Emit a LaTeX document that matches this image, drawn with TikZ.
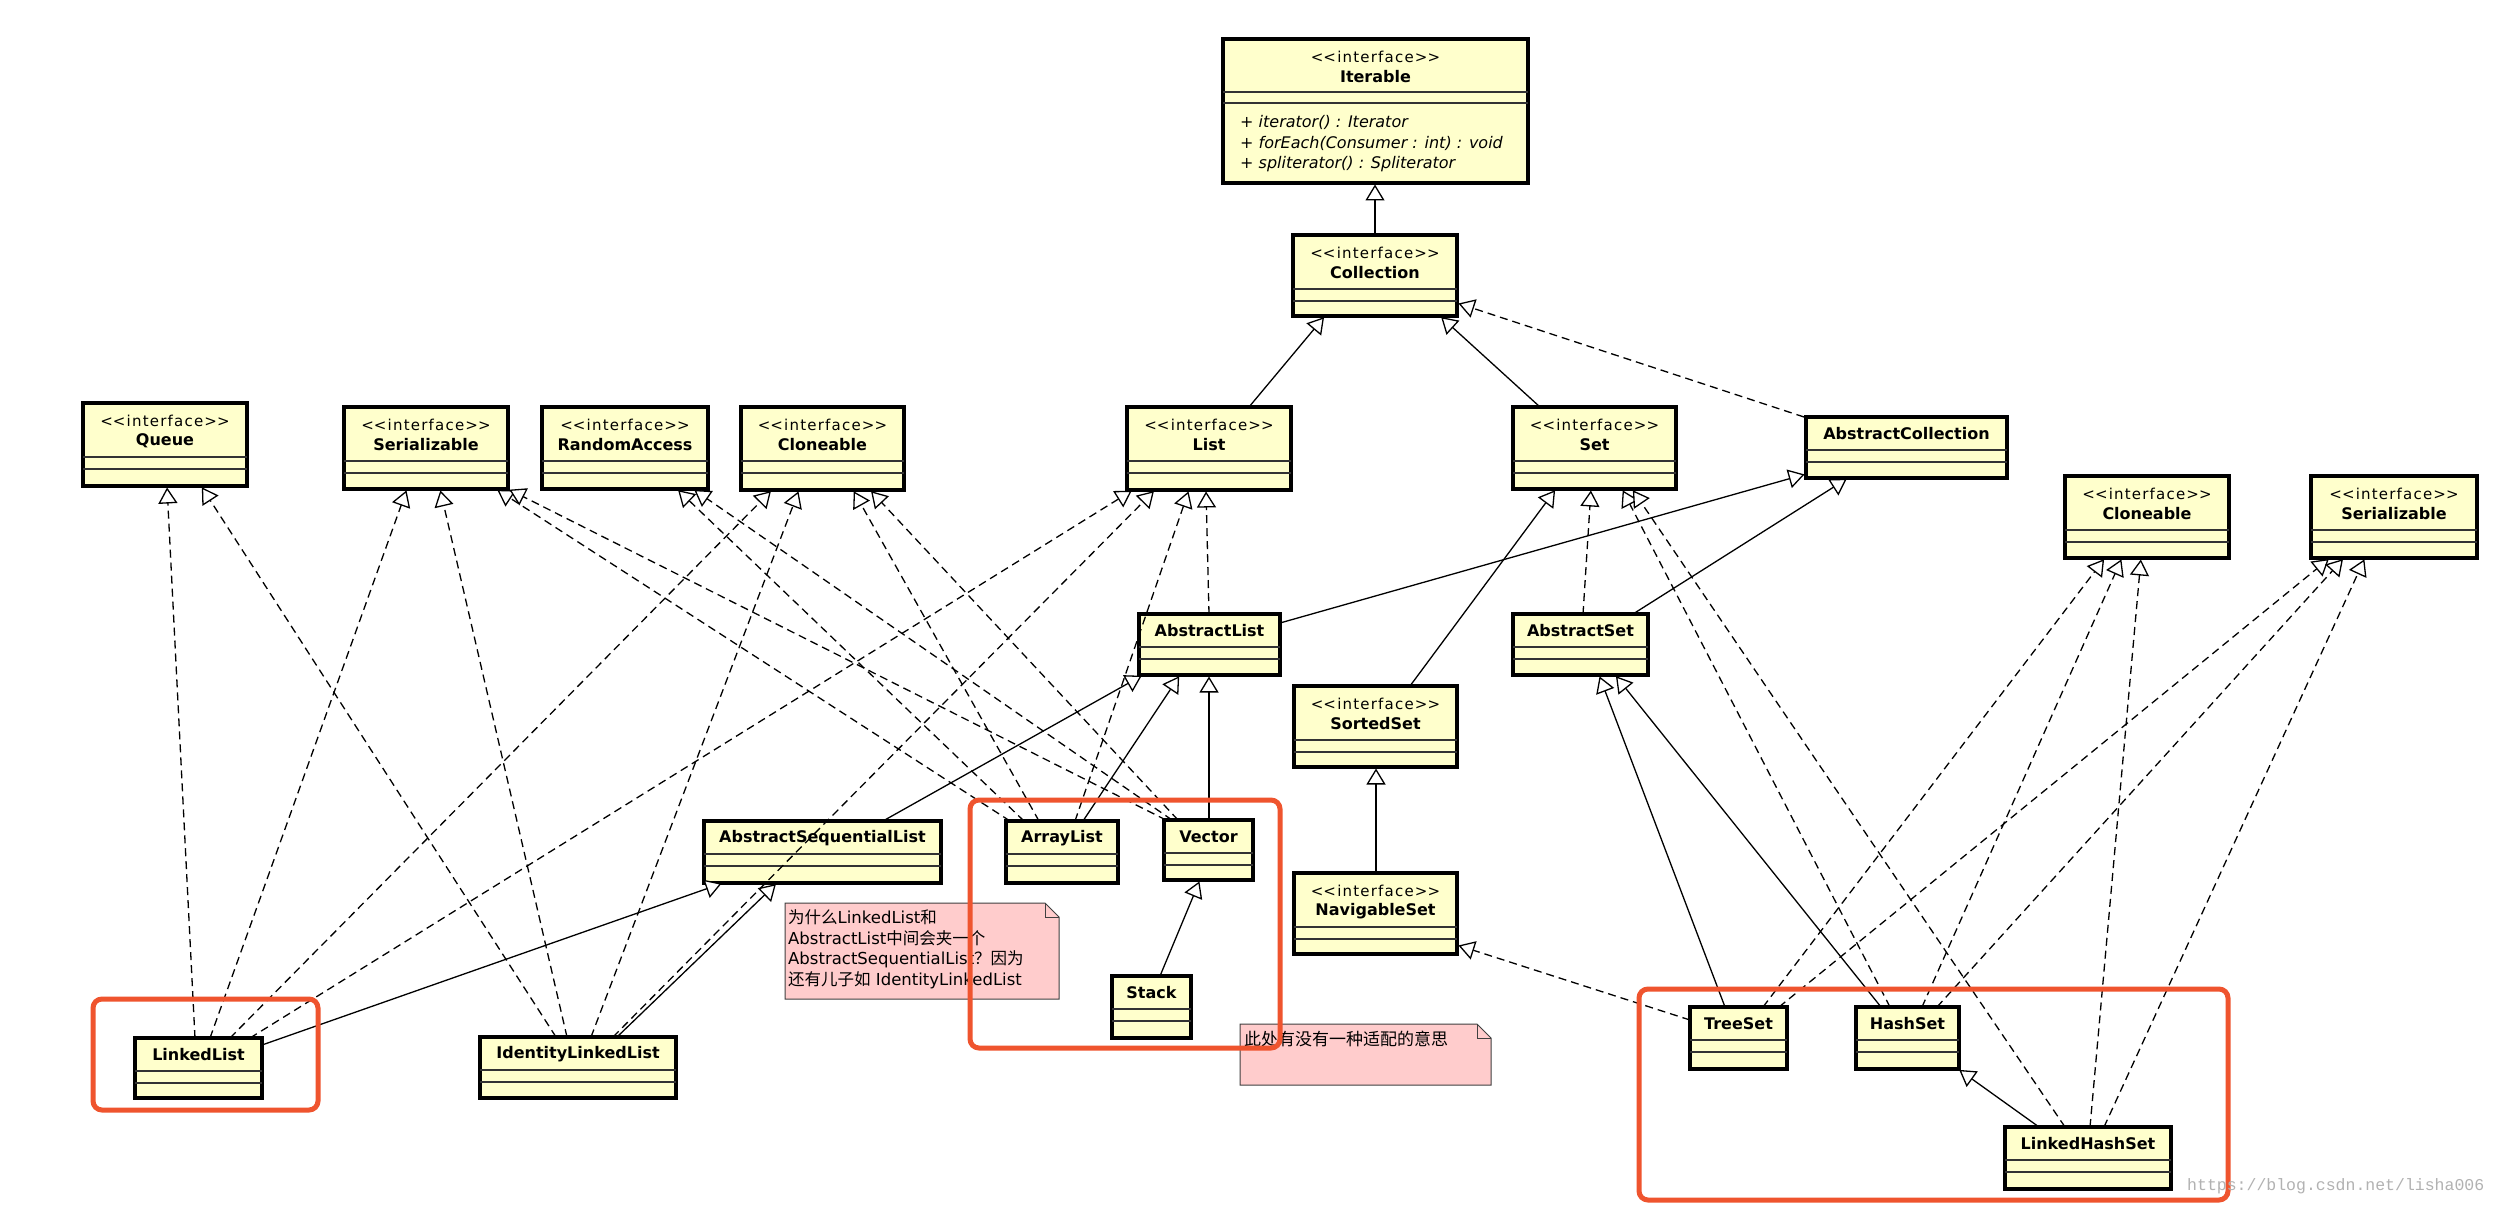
\documentclass[tikz,border=0pt]{standalone}
\usepackage{fontspec}
\setmainfont{DejaVu Sans}
\newfontfamily\stereofont[LetterSpace=8]{DejaVu Sans}
\newfontfamily\cjk{Noto Sans CJK SC}
\newfontfamily\wmfont{Liberation Mono}
\usetikzlibrary{arrows.meta}
\definecolor{classyellow}{RGB}{255,255,204}
\definecolor{notepink}{RGB}{255,204,204}
\definecolor{hlred}{RGB}{239,84,46}
\newcommand\stereotxt{<\kern0pt<interface>\kern0pt>}
\tikzset{
  umlbox/.style={draw=black, line width=3.2pt, fill=classyellow, inner sep=0pt, outer sep=0pt},
  compline/.style={line width=1.1pt, draw=black!80},
  stereo/.style={font=\stereofont\fontsize{15}{17}\selectfont, inner sep=0pt},
  cname/.style={font=\bfseries\fontsize{16}{18}\selectfont, inner sep=0pt},
  methodtxt/.style={font=\itshape\fontsize{16}{18}\selectfont, inner sep=0pt, anchor=west},
  genarrow/.style={line width=1.3pt, shorten >=1.5pt, -{Triangle[length=16pt,width=19pt,fill=white]}},
  implarrow/.style={genarrow, dash pattern=on 8pt off 5pt},
  notebox/.style={fill=notepink, draw=black!75, line width=1pt},
  notetext/.style={font=\fontsize{16.5}{21}\selectfont, inner sep=0pt, anchor=west},
  hilite/.style={draw=hlred, line width=5pt, rounded corners=9pt},
}
\newcommand\umlintf[6]{%
  \node[umlbox, minimum width=#4pt, minimum height=#5pt, anchor=north west] (#1) at (#2,#3) {};
  \draw[compline] ([yshift=-54pt]#1.north west) -- ([yshift=-54pt]#1.north east);
  \draw[compline] ([yshift=-66pt]#1.north west) -- ([yshift=-66pt]#1.north east);
  \node[stereo] (#1-st) at ([yshift=-18pt]#1.north) {\stereotxt};
  \node[cname] (#1-nm) at ([yshift=-38pt]#1.north) {#6};
}
\newcommand\umlclass[6]{%
  \node[umlbox, minimum width=#4pt, minimum height=#5pt, anchor=north west] (#1) at (#2,#3) {};
  \draw[compline] ([yshift=-33pt]#1.north west) -- ([yshift=-33pt]#1.north east);
  \draw[compline] ([yshift=-45pt]#1.north west) -- ([yshift=-45pt]#1.north east);
  \node[cname] (#1-nm) at ([yshift=-17pt]#1.north) {#6};
}
\begin{document}
\begin{tikzpicture}[x=1pt,y=-1pt]
\useasboundingbox (0,0) rectangle (2498,1206);
\fill[white] (0,0) rectangle (2498,1206);

% ---- Iterable
\node[umlbox, minimum width=305pt, minimum height=144pt, anchor=north west] (iter) at (1223,39) {};
\draw[compline] ([yshift=-53pt]iter.north west) -- ([yshift=-53pt]iter.north east);
\draw[compline] ([yshift=-64pt]iter.north west) -- ([yshift=-64pt]iter.north east);
\node[stereo] (iter-st) at ([yshift=-18pt]iter.north) {\stereotxt};
\node[cname] (iter-nm) at ([yshift=-38pt]iter.north) {Iterable};
\node[methodtxt] (iter-m1) at (1240,122) {+ iterator() : Iterator};
\node[methodtxt] (iter-m2) at (1240,143) {+ forEach(Consumer : int) : void};
\node[methodtxt] (iter-m3) at (1240,164) {+ spliterator() : Spliterator};

% ---- interfaces
\umlintf{coll}{1293}{235}{164}{81}{Collection}
\umlintf{queue}{83}{403}{164}{83}{Queue}
\umlintf{ser}{344}{407}{164}{82}{Serializable}
\umlintf{ra}{542}{407}{166}{82}{RandomAccess}
\umlintf{clo}{741}{407}{163}{83}{Cloneable}
\umlintf{list}{1127}{407}{164}{83}{List}
\umlintf{set}{1513}{407}{163}{82}{Set}
\umlintf{sorted}{1294}{686}{163}{81}{SortedSet}
\umlintf{nav}{1294}{873}{163}{81}{NavigableSet}
\umlintf{clo2}{2065}{476}{164}{82}{Cloneable}
\umlintf{ser2}{2311}{476}{166}{82}{Serializable}

% ---- classes
\umlclass{acoll}{1806}{417}{201}{61}{AbstractCollection}
\umlclass{alist}{1139}{614}{141}{61}{AbstractList}
\umlclass{aset}{1513}{614}{135}{61}{AbstractSet}
\umlclass{asl}{704}{821}{237}{62}{AbstractSequentialList}
\umlclass{arr}{1006}{821}{112}{62}{ArrayList}
\umlclass{vec}{1164}{820}{89}{60}{Vector}
\umlclass{stack}{1112}{976}{79}{62}{Stack}
\umlclass{ll}{135}{1038}{127}{60}{LinkedList}
\umlclass{ill}{480}{1037}{196}{61}{IdentityLinkedList}
\umlclass{tree}{1690}{1007}{97}{62}{TreeSet}
\umlclass{hash}{1856}{1007}{103}{62}{HashSet}
\umlclass{lhs}{2005}{1127}{166}{62}{LinkedHashSet}

% ---- generalizations (solid)
\draw[genarrow] ([xshift=82pt]coll.north west) -- ([xshift=152pt]iter.south west);
\draw[genarrow] ([xshift=122pt]list.north west) -- ([xshift=32pt]coll.south west);
\draw[genarrow] ([xshift=27pt]set.north west) -- ([xshift=147pt]coll.south west);
\draw[genarrow] ([yshift=-9pt]alist.north east) -- ([yshift=4pt]acoll.south west);
\draw[genarrow] ([xshift=120pt]aset.north west) -- ([xshift=42pt]acoll.south west);
\draw[genarrow] ([xshift=116pt]sorted.north west) -- ([xshift=43pt]set.south west);
\draw[genarrow] ([xshift=82pt]nav.north west) -- ([xshift=82pt]sorted.south west);
\draw[genarrow] ([xshift=35pt]tree.north west) -- ([xshift=86pt]aset.south west);
\draw[genarrow] ([xshift=25pt]hash.north west) -- ([xshift=102pt]aset.south west);
\draw[genarrow] ([xshift=34pt]lhs.north west) -- ([xshift=-1pt]hash.south east);
\draw[genarrow] ([xshift=179pt]asl.north west) -- ([xshift=4pt]alist.south west);
\draw[genarrow] ([xshift=77pt]arr.north west) -- ([xshift=41pt]alist.south west);
\draw[genarrow] ([xshift=45pt]vec.north west) -- ([xshift=70pt]alist.south west);
\draw[genarrow] ([xshift=48pt]stack.north west) -- ([xshift=36pt]vec.south west);
\draw[genarrow] ([yshift=-7pt]ll.north east) -- ([xshift=19pt]asl.south west);
\draw[genarrow] ([xshift=137pt]ill.north west) -- ([xshift=73pt]asl.south west);

% ---- realizations (dashed)
\draw[implarrow] ([xshift=-2pt]acoll.north west) -- ([yshift=-68pt]coll.north east);
\draw[implarrow] ([xshift=70pt]alist.north west) -- ([xshift=79pt]list.south west);
\draw[implarrow] ([xshift=70pt]aset.north west) -- ([xshift=78pt]set.south west);
\draw[implarrow] ([yshift=-13pt]tree.north west) -- ([yshift=-72pt]nav.north east);
\draw[implarrow] ([xshift=34pt]hash.north west) -- ([xshift=109pt]set.south west);
\draw[implarrow] ([xshift=60pt]lhs.north west) -- ([xshift=119pt]set.south west);
\draw[implarrow] ([xshift=73pt]tree.north west) -- ([xshift=40pt]clo2.south west);
\draw[implarrow] ([xshift=89pt]tree.north west) -- ([xshift=19pt]ser2.south west);
\draw[implarrow] ([xshift=66pt]hash.north west) -- ([xshift=57pt]clo2.south west);
\draw[implarrow] ([xshift=81pt]hash.north west) -- ([xshift=33pt]ser2.south west);
\draw[implarrow] ([xshift=85pt]lhs.north west) -- ([xshift=76pt]clo2.south west);
\draw[implarrow] ([xshift=99pt]lhs.north west) -- ([xshift=54pt]ser2.south west);
\draw[implarrow] ([xshift=60pt]ll.north west) -- ([xshift=84pt]queue.south west);
\draw[implarrow] ([xshift=76pt]ill.north west) -- ([xshift=118pt]queue.south west);
\draw[implarrow] ([xshift=75pt]ll.north west) -- ([xshift=63pt]ser.south west);
\draw[implarrow] ([xshift=87pt]ill.north west) -- ([xshift=96pt]ser.south west);
\draw[implarrow] ([xshift=4pt]arr.north west) -- ([xshift=152pt]ser.south west);
\draw[implarrow] ([xshift=2pt]vec.north west) -- (ser.south east);
\draw[implarrow] ([xshift=18pt]arr.north west) -- ([xshift=135pt]ra.south west);
\draw[implarrow] ([xshift=8pt]vec.north west) -- ([xshift=151pt]ra.south west);
\draw[implarrow] ([xshift=95pt]ll.north west) -- ([xshift=31pt]clo.south west);
\draw[implarrow] ([xshift=111pt]ill.north west) -- ([xshift=58pt]clo.south west);
\draw[implarrow] ([xshift=33pt]arr.north west) -- ([xshift=112pt]clo.south west);
\draw[implarrow] ([xshift=14pt]vec.north west) -- ([xshift=129pt]clo.south west);
\draw[implarrow] ([xshift=115pt]ll.north west) -- ([xshift=6pt]list.south west);
\draw[implarrow] ([xshift=133pt]ill.north west) -- ([xshift=28pt]list.south west);
\draw[implarrow] ([xshift=69pt]arr.north west) -- ([xshift=62pt]list.south west);

% ---- notes
\draw[notebox] (785,903) -- (1045,903) -- (1059,917) -- (1059,999) -- (785,999) -- cycle;
\draw[notebox, fill=none] (1045,903) -- (1045,917) -- (1059,917);
\node[notetext] (n1a) at (788,917) {{\cjk 为什么}LinkedList{\cjk 和}};
\node[notetext] (n1b) at (788,938) {AbstractList{\cjk 中间会夹一个}};
\node[notetext] (n1c) at (788,959) {AbstractSequentialList{\cjk ？因为}};
\node[notetext] (n1d) at (788,980) {{\cjk 还有儿子如} IdentityLinkedList};

\draw[notebox] (1240,1024) -- (1477,1024) -- (1491,1038) -- (1491,1085) -- (1240,1085) -- cycle;
\draw[notebox, fill=none] (1477,1024) -- (1477,1038) -- (1491,1038);
\node[notetext, font=\cjk\fontsize{17}{21}\selectfont] (n2) at (1244,1039) {此处有没有一种适配的意思};

% ---- highlight rectangles
\draw[hilite] (93,999) rectangle (318,1110);
\draw[hilite] (970,800) rectangle (1280,1048);
\draw[hilite] (1639,989) rectangle (2228,1200);

% ---- watermark
\node[anchor=west, text=black!30, font=\wmfont\fontsize{16.5}{18}\selectfont, inner sep=0pt] (wm) at (2187,1186) {https://blog.csdn.net/lisha006};
\end{tikzpicture}
\end{document}
